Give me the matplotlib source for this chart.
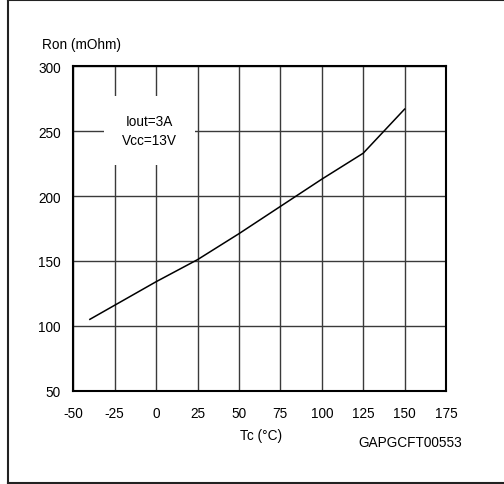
import matplotlib
matplotlib.use("Agg")
import matplotlib.pyplot as plt
from matplotlib.lines import Line2D

plt.rcParams['font.family'] = ['Liberation Sans', 'DejaVu Sans']
plt.rcParams['axes.unicode_minus'] = False

# Ron vs case temperature
temp = [-40, 0, 25, 50, 75, 100, 125, 150]
ron = [105, 134, 151, 171, 192, 213, 233, 267]

x_ticks = [-50, -25, 0, 25, 50, 75, 100, 125, 150, 175]
y_ticks = [50, 100, 150, 200, 250, 300]

FS = 9.8
W, H = 504, 485
fig = plt.figure(figsize=(W / 100, H / 100), dpi=100)
ax = fig.add_axes([73.3 / W, 1 - 391.7 / H, (446 - 73.3) / W, (391.7 - 67.3) / H])

ax.set_xlim(-50, 175)
ax.set_ylim(50, 300)
ax.set_xticks(x_ticks)
ax.set_yticks(y_ticks)
ax.tick_params(length=0, labelsize=FS, pad=9)
ax.tick_params(axis='x', pad=11)
ax.grid(True, color='#3a3a3a', linewidth=1.0)
ax.set_axisbelow(True)
for s in ax.spines.values():
    s.set_linewidth(1.5)
    s.set_color('black')

ax.plot(temp, ron, color='black', linewidth=1.1, zorder=3)

# condition label on white box hiding the grid
ax.text(-4, 250.5, "Iout=3A\nVcc=13V", ha='center', va='center', fontsize=FS,
        linespacing=1.5, zorder=4,
        bbox=dict(facecolor='white', edgecolor='none', pad=13))

fig.text(41.5 / W, 1 - 45 / H, "Ron (mOhm)", ha='left', va='center', fontsize=FS)
fig.text(261 / W, 1 - 436 / H, "Tc (°C)", ha='center', va='center', fontsize=FS)
fig.text(410.5 / W, 1 - 443 / H, "GAPGCFT00553", ha='center', va='center', fontsize=FS)

# outer frame
fig.add_artist(Line2D([7.5 / W, 7.5 / W], [1 - 484 / H, 1 - 1 / H], transform=fig.transFigure, color='#222222', linewidth=1.5))
fig.add_artist(Line2D([7.5 / W, 1], [1 - 1 / H, 1 - 1 / H], transform=fig.transFigure, color='#222222', linewidth=1.5))
fig.add_artist(Line2D([7.5 / W, 1], [1 - 484 / H, 1 - 484 / H], transform=fig.transFigure, color='#222222', linewidth=1.5))

fig.savefig("out.png", dpi=100)
